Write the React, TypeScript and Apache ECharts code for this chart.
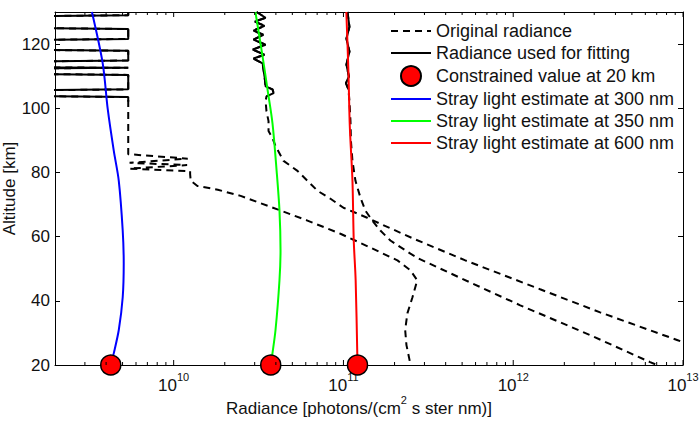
import { useEffect, useRef } from 'react';
import * as echarts from 'echarts';

const FONT = '"Liberation Sans", Arial, Helvetica, sans-serif';
const TEXT_COLOR = '#111';

// Axis ranges
const X_MIN = 2e9;
const X_MAX = 1e13;
const Y_MIN = 20;
const Y_MAX = 130;

// Log-axis tick marks (major decades, minor 2..9 sub-ticks)
const xMajorTicks = [1e10, 1e11, 1e12, 1e13];
const xMinorMantissas = [2, 3, 4, 5, 6, 7, 8, 9];
const xMinorDecades = [1e9, 1e10, 1e11, 1e12];

// Original radiance profiles (altitude in km, radiance in photons/(cm2 s ster nm))
const alt300 = [130, 129.0, 128.6, 125.1, 124.7, 121.6, 121.2, 118.3, 117.9, 114.9, 114.5, 112.8, 112.6, 112.4, 110.8, 110.4, 105.9, 105.5, 103.9, 103.5, 102.0, 94.0, 85.7, 84.3, 83.0, 82.3, 81.2, 80.4, 79.5, 77.4, 75.8, 74.6, 72.7, 69.3, 65.0, 60.9, 56.6, 52.6, 49.5, 46.4, 41.1, 36.1, 30.9, 26.2, 21.6, 20];
const rad300 = [5.4e9, 5.4e9, 1e9, 1e9, 5.4e9, 5.4e9, 1e9, 1e9, 5.4e9, 5.4e9, 1e9, 1e9, 5.4e9, 1e9, 1e9, 5.4e9, 5.4e9, 1e9, 1e9, 5.4e9, 5.4e9, 5.4e9, 5.4e9, 1.21e10, 5.5e9, 1.2e10, 5.5e9, 1.25e10, 1.25e10, 1.26e10, 1.38e10, 1.82e10, 2.48e10, 3.72e10, 6.14e10, 9.6e10, 1.44e11, 2.08e11, 2.48e11, 2.72e11, 2.55e11, 2.38e11, 2.31e11, 2.35e11, 2.45e11, 2.48e11];

const alt350 = [130, 128.2, 127.0, 125.7, 124.2, 122.9, 121.4, 119.8, 118.3, 116.7, 115.5, 114.0, 109.9, 106.8, 105.9, 104.7, 103.7, 102.2, 99.1, 96.0, 92.9, 90.7, 88.2, 83.6, 80.5, 74.3, 71.8, 69.0, 65.9, 64.0, 59.4, 52.6, 43.6, 36.4, 27.8, 20];
const rad350 = [3.08e10, 3.48e10, 3.0e10, 3.43e10, 2.95e10, 3.38e10, 2.95e10, 3.48e10, 2.92e10, 3.43e10, 2.95e10, 3.34e10, 3.43e10, 3.48e10, 3.82e10, 3.88e10, 3.52e10, 3.48e10, 3.52e10, 3.62e10, 3.62e10, 3.82e10, 3.98e10, 4.44e10, 5.36e10, 7.03e10, 8.39e10, 1.0e11, 1.38e11, 1.65e11, 2.58e11, 5.22e11, 1.44e12, 3.25e12, 9.22e12, 2.32e13];

const alt600 = [130, 125.4, 121.7, 117.7, 113.6, 109.9, 107.8, 105.9, 102.2, 96.0, 89.8, 83.6, 77.4, 72.1, 68.1, 65.0, 61.9, 58.8, 54.7, 52.9, 45.7, 38.6, 29.3, 20.9, 20];
const rad600 = [1.056e11, 1.085e11, 1.041e11, 1.085e11, 1.041e11, 1.077e11, 1.034e11, 1.07e11, 1.085e11, 1.10e11, 1.107e11, 1.13e11, 1.177e11, 1.26e11, 1.347e11, 1.48e11, 1.65e11, 1.89e11, 2.48e11, 2.84e11, 5.59e11, 1.10e12, 2.84e12, 6.40e12, 7.03e12];

// Lowest altitude of each profile used in the fit
const fitMinAlt300 = 102.0;
const fitMinAlt350 = 103.7;
const fitMinAlt600 = 105.9;

// Stray light estimates
const strayAlt300 = [130, 114.0, 99.7, 86.7, 77.4, 61.9, 51.6, 41.1, 30.9, 23.7, 20];
const stray300 = [3.3e9, 3.82e9, 4.09e9, 4.44e9, 4.75e9, 5.01e9, 5.08e9, 5.01e9, 4.75e9, 4.44e9, 4.26e9];
const strayAlt350 = [130, 116.1, 105.9, 95.3, 80.5, 68.1, 55.7, 46.4, 30.9, 21.6, 20];
const stray350 = [3.03e10, 3.34e10, 3.57e10, 3.82e10, 4.04e10, 4.2e10, 4.26e10, 4.2e10, 3.98e10, 3.77e10, 3.73e10];
const strayAlt600 = [130, 111.4, 94.4, 77.4, 58.8, 46.4, 20];
const stray600 = [1.04e11, 1.07e11, 1.09e11, 1.13e11, 1.15e11, 1.18e11, 1.21e11];

// Constrained values at 20 km
const constrainedAlt = 20;
const constrainedRad = [4.26e9, 3.73e10, 1.21e11];

const pairs = (xs: number[], ys: number[]) => xs.map((x, i) => [x, ys[i]]);
const fitPart = (xs: number[], ys: number[], minAlt: number) =>
  pairs(xs, ys).filter((p) => p[1] >= minAlt);

const minorTicks: number[] = [];
xMinorDecades.forEach((d) => {
  xMinorMantissas.forEach((m) => {
    const v = m * d;
    if (v > X_MIN && v < X_MAX) minorTicks.push(v);
  });
});
const tickData = [
  ...xMajorTicks.map((v) => [v, Y_MIN, 5]),
  ...minorTicks.map((v) => [v, Y_MIN, 3]),
];

const dashed = { color: '#000', width: 2, type: [7, 5] as number[] };
const hiddenSymbol = { color: 'rgba(0,0,0,0)', borderWidth: 0, opacity: 0 };

const option: any = {
  animation: false,
  backgroundColor: '#fff',
  textStyle: { fontFamily: FONT },
  grid: { left: 55, right: 16, top: 12, bottom: 56, containLabel: false, outerBoundsMode: 'none' },
  legend: {
    orient: 'vertical',
    left: 390,
    top: 21,
    padding: 0,
    itemWidth: 40,
    itemHeight: 20,
    itemGap: 2,
    selectedMode: false,
    textStyle: { fontSize: 18, color: TEXT_COLOR, fontFamily: FONT, lineHeight: 20 },
    data: [
      { name: 'Original radiance', itemStyle: hiddenSymbol },
      { name: 'Radiance used for fitting', itemStyle: hiddenSymbol },
      { name: 'Constrained value at 20 km' },
      { name: 'Stray light estimate at 300 nm', itemStyle: hiddenSymbol },
      { name: 'Stray light estimate at 350 nm', itemStyle: hiddenSymbol },
      { name: 'Stray light estimate at 600 nm', itemStyle: hiddenSymbol },
    ],
  },
  xAxis: [
    {
      type: 'log',
      logBase: 10,
      min: X_MIN,
      max: X_MAX,
      position: 'bottom',
      axisLine: { show: true, lineStyle: { color: '#000', width: 1 } },
      axisTick: { show: false },
      splitLine: { show: false },
      axisLabel: {
        margin: 6,
        color: TEXT_COLOR,
        fontFamily: FONT,
        formatter: (v: number) => {
          const e = Math.round(Math.log10(v));
          if (Math.abs(v - Math.pow(10, e)) / v > 1e-6) return '';
          return `{b|10}{sup|${e}}`;
        },
        rich: {
          b: { fontSize: 17, lineHeight: 28, verticalAlign: 'middle', color: TEXT_COLOR, fontFamily: FONT },
          sup: { fontSize: 11, lineHeight: 12, verticalAlign: 'top', color: TEXT_COLOR, fontFamily: FONT },
        },
      },
      name: 'Radiance [photons/(cm{sup|2} s ster nm)]',
      nameLocation: 'middle',
      nameGap: 29,
      nameMoveOverlap: false,
      nameTextStyle: {
        fontSize: 17,
        color: TEXT_COLOR,
        fontFamily: FONT,
        lineHeight: 28,
        padding: [0, 20, 0, 0],
        rich: {
          sup: { fontSize: 11, lineHeight: 12, verticalAlign: 'top', color: TEXT_COLOR, fontFamily: FONT },
        },
      },
    },
    {
      type: 'log',
      logBase: 10,
      min: X_MIN,
      max: X_MAX,
      position: 'top',
      axisLine: { show: true, lineStyle: { color: '#000', width: 1 } },
      axisTick: { show: false },
      axisLabel: { show: false },
      splitLine: { show: false },
    },
  ],
  yAxis: [
    {
      type: 'value',
      min: Y_MIN,
      max: Y_MAX,
      interval: 20,
      position: 'left',
      axisLine: { show: true, lineStyle: { color: '#000', width: 1 } },
      axisTick: { show: true, inside: true, length: 5, lineStyle: { color: '#000' } },
      splitLine: { show: false },
      axisLabel: { fontSize: 17, color: TEXT_COLOR, fontFamily: FONT, margin: 5, showMaxLabel: false },
      name: 'Altitude [km]',
      nameLocation: 'middle',
      nameGap: 37,
      nameMoveOverlap: false,
      nameTextStyle: { fontSize: 17, color: TEXT_COLOR, fontFamily: FONT },
    },
    {
      type: 'value',
      min: Y_MIN,
      max: Y_MAX,
      interval: 20,
      position: 'right',
      axisLine: { show: true, lineStyle: { color: '#000', width: 1 } },
      axisTick: { show: true, inside: true, length: 5, lineStyle: { color: '#000' } },
      axisLabel: { show: false },
      splitLine: { show: false },
    },
  ],
  series: [
    { name: 'Original radiance', type: 'line', data: pairs(rad300, alt300), symbol: 'none', lineStyle: dashed, itemStyle: { color: '#000' }, clip: true },
    { name: 'Original radiance', type: 'line', data: pairs(rad350, alt350), symbol: 'none', lineStyle: dashed, itemStyle: { color: '#000' }, clip: true },
    { name: 'Original radiance', type: 'line', data: pairs(rad600, alt600), symbol: 'none', lineStyle: dashed, itemStyle: { color: '#000' }, clip: true },
    { name: 'Radiance used for fitting', type: 'line', data: fitPart(rad300, alt300, fitMinAlt300), symbol: 'none', lineStyle: { color: '#000', width: 2 }, itemStyle: { color: '#000' }, clip: true },
    { name: 'Radiance used for fitting', type: 'line', data: fitPart(rad350, alt350, fitMinAlt350), symbol: 'none', lineStyle: { color: '#000', width: 2 }, itemStyle: { color: '#000' }, clip: true },
    { name: 'Radiance used for fitting', type: 'line', data: fitPart(rad600, alt600, fitMinAlt600), symbol: 'none', lineStyle: { color: '#000', width: 2 }, itemStyle: { color: '#000' }, clip: true },
    { name: 'Stray light estimate at 300 nm', type: 'line', data: pairs(stray300, strayAlt300), symbol: 'none', smooth: 0.3, lineStyle: { color: '#0000ff', width: 2 }, itemStyle: { color: '#0000ff' }, clip: true },
    { name: 'Stray light estimate at 350 nm', type: 'line', data: pairs(stray350, strayAlt350), symbol: 'none', smooth: 0.3, lineStyle: { color: '#00ff00', width: 2 }, itemStyle: { color: '#00ff00' }, clip: true },
    { name: 'Stray light estimate at 600 nm', type: 'line', data: pairs(stray600, strayAlt600), symbol: 'none', smooth: 0.3, lineStyle: { color: '#ff0000', width: 2 }, itemStyle: { color: '#ff0000' }, clip: true },
    {
      name: 'Constrained value at 20 km',
      type: 'scatter',
      data: constrainedRad.map((r) => [r, constrainedAlt]),
      symbol: 'circle',
      symbolSize: 20,
      itemStyle: { color: '#ff0000', borderColor: '#000', borderWidth: 1.5, opacity: 1 },
      clip: false,
      z: 5,
    },
    {
      name: 'x-ticks',
      type: 'custom',
      data: tickData,
      encode: { x: 0, y: 1 },
      clip: false,
      silent: true,
      z: 6,
      renderItem: (_params: any, api: any) => {
        const v = api.value(0);
        const len = api.value(2);
        const b = api.coord([v, Y_MIN]);
        const t = api.coord([v, Y_MAX]);
        const style = { stroke: '#000', lineWidth: 1 };
        return {
          type: 'group',
          children: [
            { type: 'line', shape: { x1: b[0], y1: b[1], x2: b[0], y2: b[1] - len }, style },
            { type: 'line', shape: { x1: t[0], y1: t[1], x2: t[0], y2: t[1] + len }, style },
          ],
        };
      },
    },
  ],
};

export default function App() {
  const ref = useRef<HTMLDivElement>(null);
  useEffect(() => {
    document.body.style.margin = '0';
    const chart = echarts.init(ref.current as HTMLDivElement, null, { renderer: 'svg' });
    chart.setOption(option);
    return () => chart.dispose();
  }, []);
  return <div ref={ref} style={{ width: 699, height: 421 }} />;
}
